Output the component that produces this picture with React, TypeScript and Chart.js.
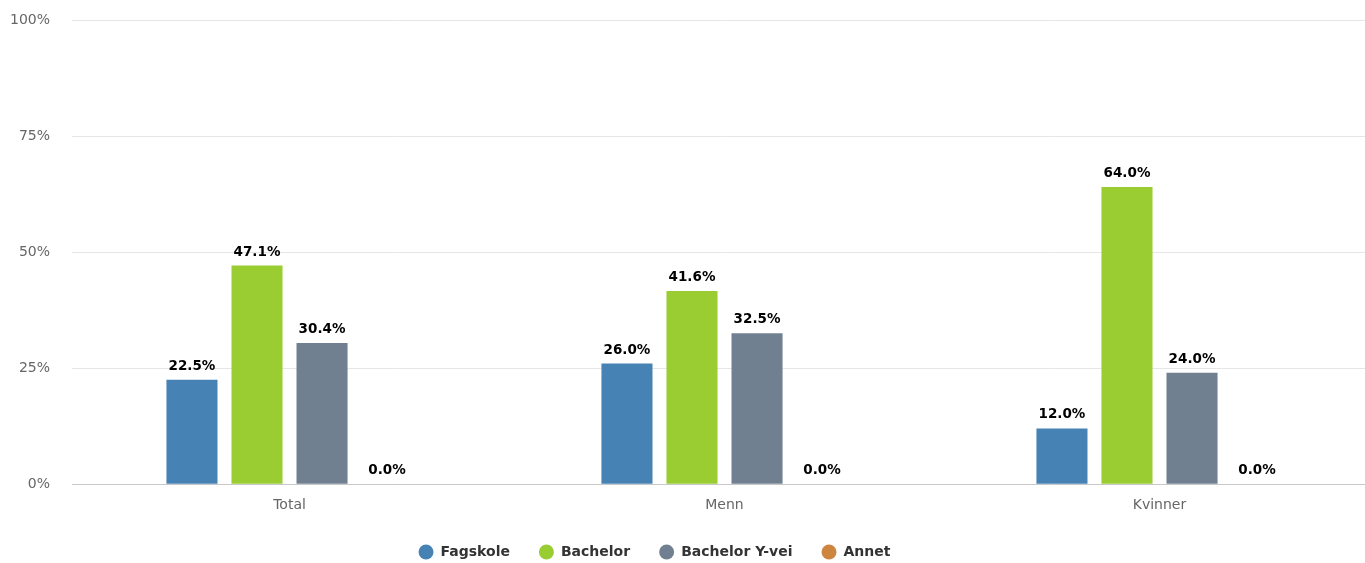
import React, { useEffect, useRef } from "react";
import { Chart, registerables } from "chart.js";

Chart.register(...registerables);

const categories = ["Total", "Menn", "Kvinner"];
const seriesNames = ["Fagskole", "Bachelor", "Bachelor Y-vei", "Annet"];
const fagskole = [22.5, 26.0, 12.0];
const bachelor = [47.1, 41.6, 64.0];
const bachelorYvei = [30.4, 32.5, 24.0];
const annet = [0.0, 0.0, 0.0];
const seriesColors = ["#4682B4", "#9ACD32", "#708090", "#CD853F"];
const yTicks = [0, 25, 50, 75, 100];

const FONT = "'DejaVu Sans', sans-serif";

const dataLabelPlugin = {
  id: "dataLabels",
  afterDatasetsDraw(chart: any) {
    const ctx = chart.ctx;
    ctx.save();
    ctx.font = `bold 13.5px ${FONT}`;
    ctx.fillStyle = "#000000";
    ctx.textAlign = "center";
    ctx.textBaseline = "alphabetic";
    chart.data.datasets.forEach((ds: any, di: number) => {
      const meta = chart.getDatasetMeta(di);
      if (meta.hidden) return;
      meta.data.forEach((bar: any, i: number) => {
        const v = ds.data[i];
        ctx.fillText(v.toFixed(1) + "%", bar.x, bar.y - 10);
      });
    });
    ctx.restore();
  },
};

const legendShiftPlugin = {
  id: "legendShift",
  afterLayout(chart: any) {
    const lg = chart.legend;
    if (!lg) return;
    lg.top -= 11;
    lg.bottom -= 11;
    lg.left -= 39;
    lg.right -= 39;
  },
};

export default function App() {
  const ref = useRef<HTMLCanvasElement | null>(null);
  useEffect(() => {
    if (!ref.current) return;
    const values = [fagskole, bachelor, bachelorYvei, annet];
    const chart = new Chart(ref.current, {
      type: "bar",
      data: {
        labels: categories,
        datasets: seriesNames.map((name, i) => ({
          label: name,
          data: values[i],
          backgroundColor: seriesColors[i],
          borderWidth: 0,
          categoryPercentage: 0.598,
          barPercentage: 0.785,
        })),
      },
      options: {
        responsive: false,
        animation: false,
        layout: { padding: { left: 10, top: 20, right: 0, bottom: 0 } },
        plugins: {
          tooltip: { enabled: false },
          legend: {
            position: "bottom",
            labels: {
              usePointStyle: true,
              pointStyle: "circle",
              boxHeight: 10.6,
              boxWidth: 17,
              pointStyleWidth: 15,
              padding: 29,
              color: "#333333",
              font: { family: FONT, size: 14, weight: "bold" },
            },
          },
        },
        scales: {
          x: {
            grid: { display: false, drawTicks: false },
            border: { display: true, color: "#c8c8c8", width: 1 },
            ticks: {
              padding: 13,
              color: "#666666",
              font: { family: FONT, size: 14 },
            },
          },
          y: {
            min: 0,
            max: 100,
            afterBuildTicks: (scale: any) => {
              scale.ticks = yTicks.map((v) => ({ value: v }));
            },
            grid: {
              color: "#e6e6e6",
              drawTicks: true,
              tickLength: 22,
              tickColor: "rgba(0,0,0,0)",
            },
            border: { display: false },
            ticks: {
              padding: 0,
              color: "#666666",
              font: { family: FONT, size: 14 },
              callback: (v: any) => v + "%",
            },
          },
        },
      },
      plugins: [dataLabelPlugin, legendShiftPlugin],
    });
    return () => chart.destroy();
  }, []);

  return (
    <div
      style={{
        position: "fixed",
        left: 0,
        top: 0,
        width: 1365,
        height: 563,
        overflow: "hidden",
        background: "#ffffff",
      }}
    >
      <canvas ref={ref} width={1377} height={580} style={{ display: "block" }} />
    </div>
  );
}
